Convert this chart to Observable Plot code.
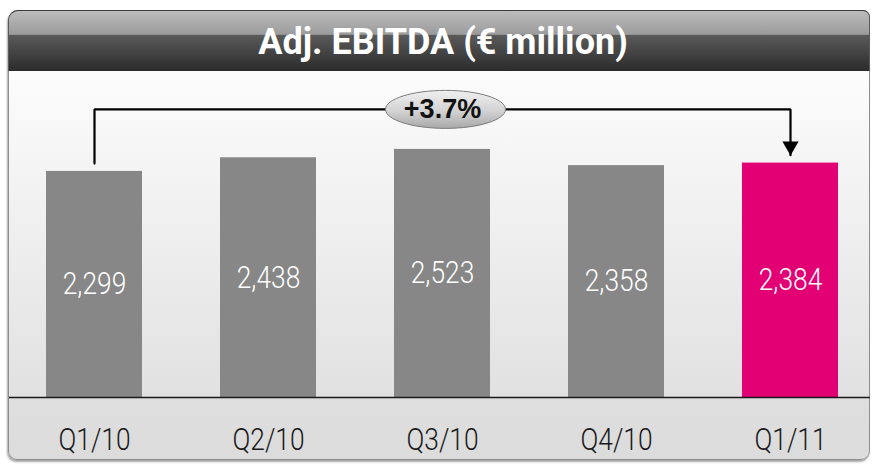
<!DOCTYPE html>
<html>
<head>
<meta charset="utf-8">
<script src="https://cdn.jsdelivr.net/npm/d3@7"></script>
<script src="https://cdn.jsdelivr.net/npm/@observablehq/plot@0.6"></script>
<style>
  body { margin: 0; background: #fff; }
  #wrap { position: relative; width: 873px; height: 464px; overflow: hidden; }
  #panel {
    position: absolute; left: 8px; top: 10px; width: 862px; height: 450px; box-sizing: border-box;
    border: 1.5px solid #8e8e8e; border-radius: 10px 7px 9px 9px;
    background: linear-gradient(to bottom, #fdfdfd 0px, #fcfcfc 62px, #e1e1e1 386px, #dedede 387px, #dcdcdc 100%);
    box-shadow: -1px 2px 2px rgba(0,0,0,0.35);
  }
  #header {
    position: absolute; left: 8px; top: 10px; width: 862px; height: 61px; box-sizing: border-box;
    border-top: 1.5px solid #3a3a3a; border-left: 1.5px solid #5a5a5a; border-right: 1.5px solid #5a5a5a;
    border-radius: 10px 7px 0 0;
    background: linear-gradient(to bottom, #bcbcbc 0%, #9b9b9b 39%, #5a5a5a 40%, #2b2b2b 100%);
  }
  #title {
    position: absolute; left: 12px; top: 21px; width: 862px; height: 37px; line-height: 37px;
    text-align: center; color: #fff; font: 700 36px Roboto, "Liberation Sans", sans-serif;
  }
  #chart { position: absolute; left: 0; top: 0; }
</style>
</head>
<body>
<div id="wrap">
  <div id="panel"></div>
  <div id="header"></div>
  <div id="title">Adj. EBITDA (€ million)</div>
  <div id="chart"></div>
</div>
<script>
// ---- data ----
const categories = ["Q1/10", "Q2/10", "Q3/10", "Q4/10", "Q1/11"];
const values = [2299, 2438, 2523, 2358, 2384];
const valueLabels = ["2,299", "2,438", "2,523", "2,358", "2,384"];
const highlight = "Q1/11";
const changeLabel = "+3.7%";
const bracketFrom = "Q1/10";
const bracketTo = "Q1/11";
const bracketLevel = 2930;   // value level of the comparison bracket
const bracketGap = 80;       // gap between bar top and bracket ends (value units)
const labelCategory = "Q3/10";

// ---- styles ----
const GRAY = "#878787";
const MAGENTA = "#e20074";

const data = categories.map((c, i) => ({category: c, value: values[i], label: valueLabels[i]}));
const iFrom = categories.indexOf(bracketFrom);
const iTo = categories.indexOf(bracketTo);
const bracket = [
  {x: bracketFrom, y: values[iFrom] + bracketGap},
  {x: bracketFrom, y: bracketLevel},
  {x: bracketTo, y: bracketLevel},
  {x: bracketTo, y: values[iTo] + bracketGap}
];
const arrowTip = [{x: bracketTo, y: values[iTo] + bracketGap}];
const badge = [{x: labelCategory, y: bracketLevel, text: changeLabel}];

const ellipseSymbol = {
  draw(ctx) {
    const rx = 60, ry = 19, k = 0.5523;
    ctx.moveTo(-rx, 0);
    ctx.bezierCurveTo(-rx, -k * ry, -k * rx, -ry, 0, -ry);
    ctx.bezierCurveTo(k * rx, -ry, rx, -k * ry, rx, 0);
    ctx.bezierCurveTo(rx, k * ry, k * rx, ry, 0, ry);
    ctx.bezierCurveTo(-k * rx, ry, -rx, k * ry, -rx, 0);
    ctx.closePath();
  }
};

const FONT = "Roboto";
const chart = Plot.plot({
  width: 873,
  height: 464,
  marginLeft: 9,
  marginRight: 3,
  marginTop: 72,
  marginBottom: 67,
  style: {background: "transparent", overflow: "visible"},
  x: {domain: categories, range: [7, 877], paddingInner: 0.45, paddingOuter: 0.225, axis: null},
  y: {domain: [0, 3000], range: [397, 102], axis: null},
  marks: [
    Plot.barY(data, {x: "category", y: "value", fill: d => d.category === highlight ? MAGENTA : GRAY}),
    Plot.ruleY([0], {stroke: "#1a1a1a", strokeWidth: 1.5}),
    Plot.text(data, {x: "category", y: d => d.value / 2, text: "label", fill: "#ffffff",
      fontSize: 31, fontFamily: FONT, fontWeight: 300, lineAnchor: "middle"}),
    Plot.text(categories, {x: d => d, text: d => d, frameAnchor: "bottom", dy: 43, fill: "#1a1a1a",
      fontSize: 31, fontFamily: FONT, fontWeight: 300, lineAnchor: "middle"}),
    Plot.line(bracket, {x: "x", y: "y", stroke: "#000", strokeWidth: 2.2, strokeLinejoin: "miter"}),
    Plot.dot(arrowTip, {x: "x", y: "y", symbol: "triangle", r: 6, rotate: 180, fill: "#000", stroke: "none", dy: -9}),
    Plot.dot(badge, {x: "x", y: "y", symbol: ellipseSymbol, r: 10, dx: 3, fill: "url(#ellGrad)", stroke: "#7d7d7d", strokeWidth: 1}),
    Plot.text(badge, {x: "x", y: "y", text: "text", fontSize: 27, fontWeight: "bold",
      fontFamily: "Liberation Sans", fill: "#111", lineAnchor: "middle"})
  ]
});

// gradient for the badge ellipse
d3.select(chart).insert("defs", ":first-child").html(
  '<linearGradient id="ellGrad" x1="0" y1="0" x2="0" y2="1">' +
  '<stop offset="0" stop-color="#f0f0f0"/><stop offset="0.55" stop-color="#d2d2d2"/>' +
  '<stop offset="1" stop-color="#a8a8a8"/></linearGradient>'
);

// condense the Roboto labels horizontally (narrow corporate typeface look)
const S = 0.85;
chart.querySelectorAll('g[font-family="Roboto"] text').forEach(t => {
  const x0 = +(t.getAttribute("x") || 0);
  const tr = t.getAttribute("transform") || "";
  t.setAttribute("transform", `${tr} translate(${x0},0) scale(${S},1) translate(${-x0},0)`);
});

document.getElementById("chart").appendChild(chart);
</script>
</body>
</html>
